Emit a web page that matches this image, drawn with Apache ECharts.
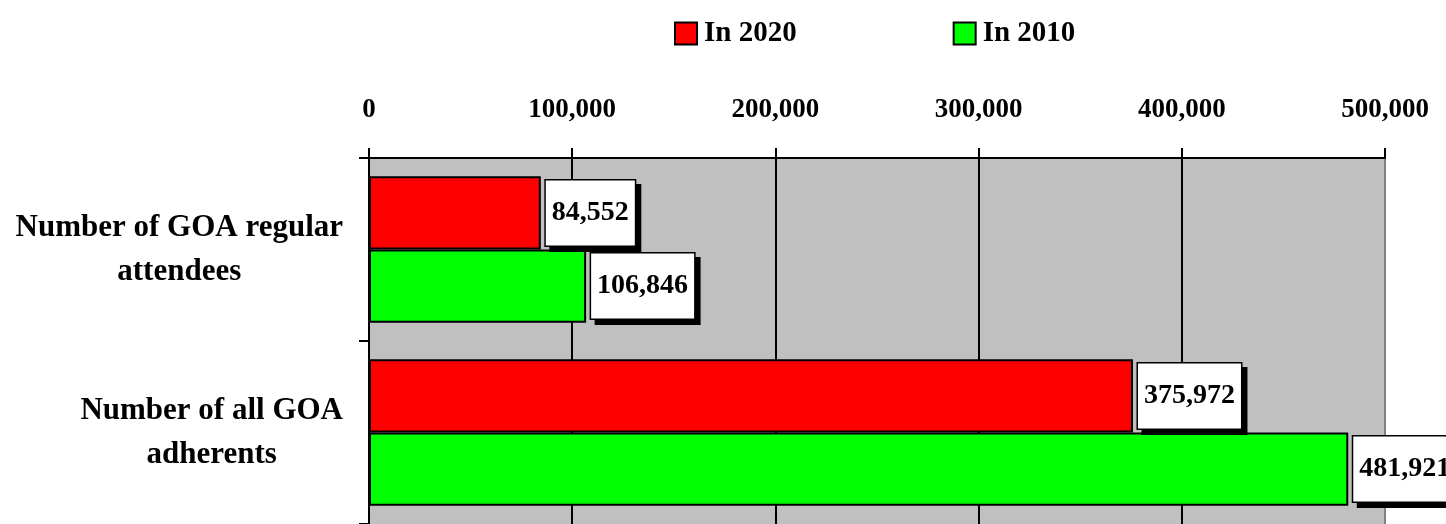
<!DOCTYPE html>
<html>
<head>
<meta charset="utf-8">
<script src="https://cdn.jsdelivr.net/npm/echarts@6/dist/echarts.min.js"></script>
<style>
  html, body { margin: 0; padding: 0; background: #fff; }
  #main { width: 1446px; height: 524px; }
</style>
</head>
<body>
<div id="main"></div>
<script>
const categories = ['Number of GOA regular\nattendees', 'Number of all GOA\nadherents']
const values2020 = [84552, 375972]
const values2010 = [106846, 481921]
const xTicks = [0, 100000, 200000, 300000, 400000, 500000]

const font = 'Liberation Serif'

const fmt = (v) => Number(v).toLocaleString('en-US')

const labelBox = {
  show: true,
  position: 'right',
  distance: 5,
  fontFamily: font,
  fontWeight: 'bold',
  fontSize: 28,
  color: '#000',
  backgroundColor: '#fff',
  borderColor: '#000',
  borderWidth: 1.5,
  padding: [19, 6, 18, 6],
  shadowColor: '#000',
  shadowBlur: 0,
  shadowOffsetX: 5,
  shadowOffsetY: 5,
  formatter: (p) => fmt(p.value)
}

const myChart = echarts.init(document.getElementById('main'))

const option = {
  animation: false,
  legend: {
    top: 14,
    left: 669,
    itemWidth: 22,
    itemHeight: 22,
    itemGap: 156,
    icon: 'rect',
    textStyle: { fontFamily: font, fontWeight: 'bold', fontSize: 29, color: '#000', padding: [2, 0, 0, 2] },
    data: ['In 2020', 'In 2010']
  },
  grid: {
    left: 369,
    right: 1446 - 1385,
    top: 158,
    bottom: -6,
    show: true,
    backgroundColor: '#c0c0c0',
    borderWidth: 0,
    containLabel: false
  },
  xAxis: {
    type: 'value',
    position: 'top',
    min: xTicks[0],
    max: xTicks[xTicks.length - 1],
    interval: 100000,
    axisLine: { show: true, lineStyle: { color: '#000', width: 2 } },
    axisTick: { show: true, length: 10, lineStyle: { color: '#000', width: 2 } },
    axisLabel: {
      margin: 34,
      fontFamily: font,
      fontWeight: 'bold',
      fontSize: 27,
      color: '#000',
      formatter: (v) => fmt(v)
    },
    splitLine: {
      show: true,
      lineStyle: { color: ['#000', '#000', '#000', '#000', '#000', '#808080'], width: 2 }
    }
  },
  yAxis: {
    type: 'category',
    inverse: true,
    data: categories,
    axisLine: { show: true, lineStyle: { color: '#000', width: 2 } },
    axisTick: { show: true, length: 10, lineStyle: { color: '#000', width: 2 } },
    axisLabel: {
      margin: 26,
      lineHeight: 44,
      formatter: (v) => v.split('\n').map(s => '{a|' + s + '}').join('\n'),
      rich: {
        a: {
          align: 'center',
          fontFamily: font,
          fontWeight: 'bold',
          fontSize: 31,
          lineHeight: 44,
          color: '#000'
        }
      }
    }
  },
  series: [
    {
      name: 'In 2020',
      type: 'bar',
      data: values2020,
      barGap: '0%',
      barCategoryGap: '20%',
      itemStyle: { color: '#ff0000', borderColor: '#000', borderWidth: 2 },
      label: labelBox
    },
    {
      name: 'In 2010',
      type: 'bar',
      data: values2010,
      barGap: '0%',
      barCategoryGap: '20%',
      itemStyle: { color: '#00ff00', borderColor: '#000', borderWidth: 2 },
      label: labelBox
    }
  ]
}

myChart.setOption(option)
window.addEventListener('resize', () => {
  myChart.resize()
})
</script>
</body>
</html>
